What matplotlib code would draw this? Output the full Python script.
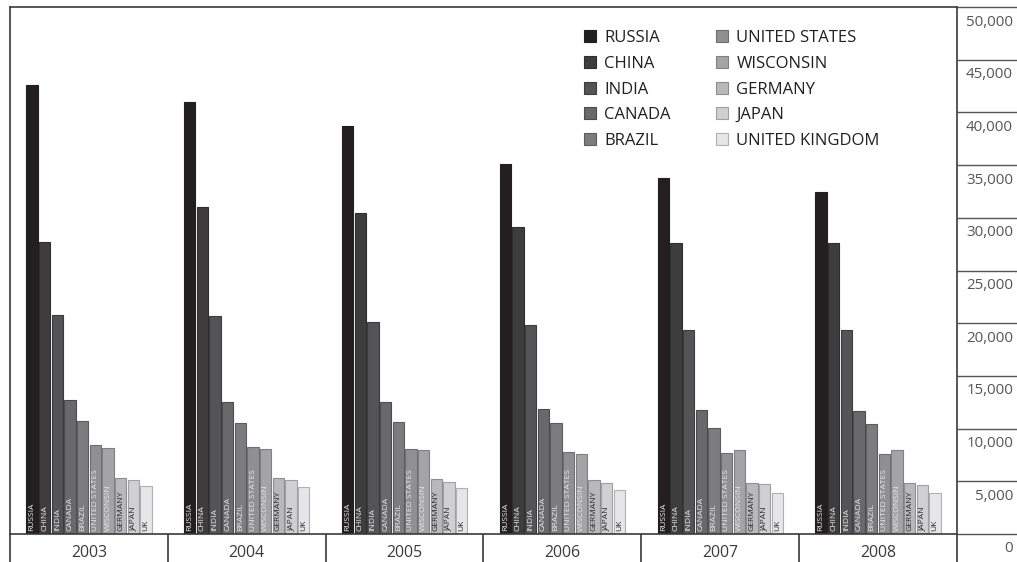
import matplotlib
matplotlib.use('Agg')
import matplotlib.pyplot as plt
import matplotlib.transforms as mtransforms
from matplotlib.patches import Patch
import numpy as np

plt.rcParams['font.family'] = ['Open Sans', 'DejaVu Sans']

# ---------------- data ----------------
years = ['2003', '2004', '2005', '2006', '2007', '2008']
countries = ['RUSSIA', 'CHINA', 'INDIA', 'CANADA', 'BRAZIL',
             'UNITED STATES', 'WISCONSIN', 'GERMANY', 'JAPAN', 'UNITED KINGDOM']
bar_labels = ['RUSSIA', 'CHINA', 'INDIA', 'CANADA', 'BRAZIL',
              'UNITED STATES', 'WISCONSIN', 'GERMANY', 'JAPAN', 'UK']

russia = [42600, 40960, 38710, 35100, 33750, 32420]
china = [27700, 31000, 30430, 29100, 27580, 27610]
india = [20750, 20650, 20110, 19800, 19350, 19320]
canada = [12690, 12560, 12500, 11830, 11740, 11640]
brazil = [10690, 10500, 10600, 10560, 10030, 10410]
united_states = [8420, 8290, 8040, 7810, 7720, 7560]
wisconsin = [8190, 8100, 7940, 7620, 7940, 7940]
germany = [5290, 5290, 5190, 5100, 4810, 4810]
japan = [5100, 5100, 4970, 4870, 4720, 4620]
united_kingdom = [4530, 4430, 4340, 4150, 3920, 3890]

series = [russia, china, india, canada, brazil, united_states,
          wisconsin, germany, japan, united_kingdom]

colors = ['#231f20', '#3d3d3e', '#545456', '#69696b', '#7c7c7e',
          '#909092', '#a4a4a6', '#b9b9bb', '#d0d0d2', '#e6e6e8']
edges = ['#231f20', '#2e2e2f', '#3c3c3e', '#4c4c4e', '#5c5c5e',
         '#6e6e70', '#808082', '#8e8e90', '#a0a0a2', '#b0b0b2']
text_colors = ['#e8e8e8'] * 7 + ['#2a2a2a'] * 3

yticks = list(range(0, 50001, 5000))
ytick_labels = ['{:,}'.format(v) for v in yticks]

# ---------------- figure ----------------
W, H = 1017, 562
fig = plt.figure(figsize=(W / 100, H / 100), dpi=100)
ax_left, ax_right, ax_top, ax_bottom = 10, 957, 7, 534
ax = fig.add_axes([ax_left / W, (H - ax_bottom) / H,
                   (ax_right - ax_left) / W, (ax_bottom - ax_top) / H])
ax.set_xlim(-0.5, len(years) - 0.5)
ax.set_ylim(0, 50000)

line_col = '#3a3a3a'
for s in ax.spines.values():
    s.set_color(line_col)
    s.set_linewidth(1.2)

ax.set_xticks([])
ax.yaxis.tick_right()
ax.set_yticks(yticks)
ax.tick_params(axis='y', which='major', length=60 * 0.72, width=1.0,
               color='#555555', direction='out', labelright=False)

# right tick labels (below their lines)
lab_tr = mtransforms.offset_copy(ax.get_yaxis_transform(), fig=fig,
                                 x=56, y=-18.5, units='dots')
for v, lab in zip(yticks, ytick_labels):
    ax.text(1, v, lab, transform=lab_tr, ha='right', va='baseline',
            fontsize=10.8, color='#555555')

# group separators below baseline
xt = ax.get_xaxis_transform()
extra = (H - ax_bottom + 2) / (ax_bottom - ax_top)
for b in np.arange(-0.5, len(years) + 0.5, 1.0):
    ax.plot([b, b], [0, -extra], transform=xt, color=line_col, lw=1.2,
            clip_on=False, solid_capstyle='butt')

# year labels
year_tr = mtransforms.offset_copy(ax.transData, fig=fig, y=-23, units='dots')
for i, yr in enumerate(years):
    ax.text(i, 0, yr, transform=year_tr, ha='center', va='baseline',
            fontsize=11.4, color='#3a3a3a')

# bars
pitch = 0.0803
width = 0.0716
x0 = np.arange(len(years))
lab_bar_tr = mtransforms.offset_copy(ax.transData, fig=fig, y=3, units='dots')
for j, (vals, col, ec, tc, bl) in enumerate(zip(series, colors, edges,
                                                text_colors, bar_labels)):
    xs = x0 + (j - 4.5) * pitch
    ax.bar(xs, vals, width=width, color=col, edgecolor=ec, linewidth=0.8,
           zorder=2)
    for xi in xs:
        ax.text(xi, 0, bl, transform=lab_bar_tr, rotation=90, ha='center',
                va='bottom', fontsize=6.1, color=tc, zorder=3)

# legend
handles = [Patch(facecolor=c, edgecolor=e, linewidth=0.8)
           for c, e in zip(colors, edges)]
fig.legend(handles, countries, ncol=2, loc='upper left',
           bbox_to_anchor=(584 / W, 1 - 30 / H), frameon=False,
           fontsize=12, labelcolor='#231f20',
           handlelength=0.72, handleheight=0.72, handletextpad=0.48,
           columnspacing=2.75, labelspacing=0.585, borderpad=0,
           borderaxespad=0)

fig.savefig('out.png', dpi=100)
